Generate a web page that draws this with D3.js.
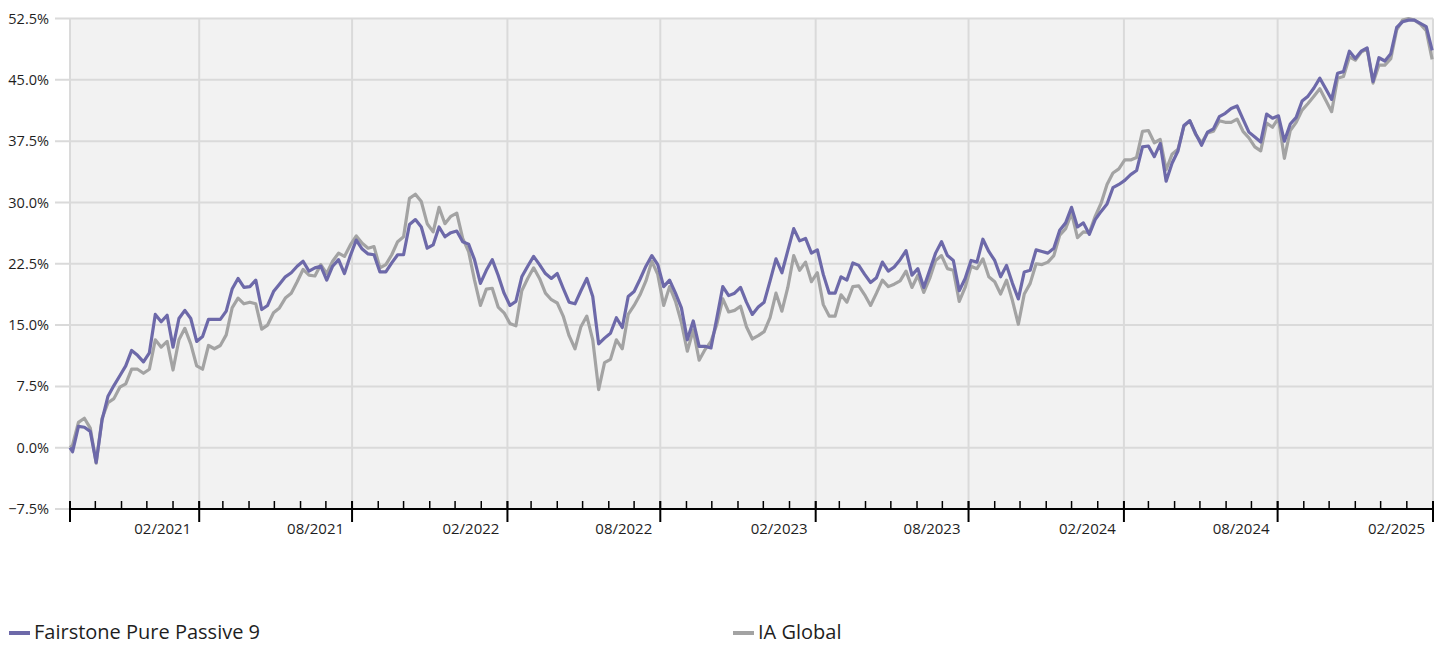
<!DOCTYPE html>
<html>
<head>
<meta charset="utf-8">
<script src="https://cdn.jsdelivr.net/npm/d3@7"></script>
<style>
  body { margin: 0; background: #fff; }
  svg text { font-family: "Open Sans", "Noto Sans", sans-serif; fill: #1e1e1e; }
</style>
</head>
<body>
<div id="chart"></div>
<script>
// series names
var seriesNames = ["Fairstone Pure Passive 9", "IA Global"];

// cumulative performance (%), first value at start date then weekly (Fridays)
var fairstone = [
  0, -0.5, 2.6, 2.5, 2.0, -1.8, 3.4, 6.3, 7.6, 8.8,
  10.0, 11.9, 11.3, 10.5, 11.6, 16.3, 15.4, 16.2, 12.3, 15.8,
  16.8, 15.8, 13.0, 13.6, 15.7, 15.7, 15.7, 16.7, 19.4, 20.7,
  19.6, 19.7, 20.5, 16.9, 17.4, 19.1, 20.0, 20.9, 21.4, 22.2,
  22.8, 21.6, 22.0, 22.2, 20.5, 22.2, 23.0, 21.3, 23.5, 25.4,
  24.3, 23.7, 23.6, 21.5, 21.5, 22.6, 23.6, 23.6, 27.3, 27.9,
  27.0, 24.4, 24.8, 27.0, 25.8, 26.3, 26.5, 25.2, 24.9, 23.0,
  20.1, 21.7, 23.0, 21.1, 18.9, 17.4, 17.9, 20.9, 22.2, 23.4,
  22.4, 21.3, 20.7, 21.3, 19.5, 17.8, 17.6, 19.2, 20.7, 18.5,
  12.7, 13.4, 14.0, 15.9, 14.7, 18.5, 19.1, 20.6, 22.2, 23.5,
  22.4, 19.7, 20.5, 18.9, 17.1, 13.2, 15.5, 12.4, 12.4, 12.2,
  15.9, 19.7, 18.6, 18.9, 19.6, 17.8, 16.3, 17.2, 17.8, 20.4,
  23.1, 21.4, 24.1, 26.8, 25.3, 25.6, 23.8, 24.2, 21.2, 18.9,
  18.9, 20.9, 20.5, 22.6, 22.3, 21.2, 20.2, 20.8, 22.7, 21.6,
  22.1, 23.0, 24.1, 21.1, 21.9, 19.6, 21.7, 23.8, 25.2, 23.5,
  22.9, 19.2, 20.7, 22.9, 22.7, 25.5, 24.0, 22.9, 20.9, 22.3,
  20.1, 18.2, 21.5, 21.7, 24.2, 24.0, 23.8, 24.4, 26.6, 27.5,
  29.4, 27.0, 27.5, 26.1, 27.9, 28.9, 29.8, 31.8, 32.2, 32.7,
  33.4, 33.9, 36.8, 36.9, 35.6, 37.2, 32.6, 34.8, 36.3, 39.4,
  40.0, 38.4, 37.0, 38.6, 39.0, 40.5, 40.9, 41.5, 41.8, 40.2,
  38.6, 38.0, 37.4, 40.8, 40.3, 40.6, 37.5, 39.6, 40.4, 42.4,
  43.0, 44.0, 45.2, 43.9, 42.6, 45.8, 46.0, 48.5, 47.6, 48.5,
  48.9, 44.8, 47.7, 47.3, 48.2, 51.4, 52.1, 52.3, 52.3, 51.9,
  51.5, 48.6
];

var iaGlobal = [
  0, 0.3, 3.1, 3.6, 2.4, -1.9, 3.6, 5.5, 6.0, 7.4,
  7.8, 9.6, 9.6, 9.1, 9.6, 13.2, 12.3, 13.0, 9.5, 13.2,
  14.6, 12.7, 10.0, 9.6, 12.5, 12.1, 12.5, 13.8, 17.1, 18.3,
  17.6, 17.8, 17.6, 14.5, 15.0, 16.5, 17.1, 18.3, 18.9, 20.3,
  21.8, 21.1, 21.0, 22.4, 21.3, 22.8, 23.8, 23.4, 24.8, 25.9,
  25.0, 24.4, 24.6, 22.0, 22.4, 23.6, 25.2, 25.8, 30.5, 31.0,
  30.1, 27.4, 26.4, 29.4, 27.4, 28.3, 28.7, 25.6, 24.0, 20.5,
  17.4, 19.4, 19.5, 17.2, 16.5, 15.2, 14.9, 19.2, 20.7, 22.0,
  20.7, 18.9, 18.1, 17.7, 16.1, 13.7, 12.1, 14.8, 16.1, 13.2,
  7.1, 10.4, 10.8, 13.2, 12.1, 16.3, 17.4, 18.7, 20.4, 22.8,
  21.2, 17.4, 19.7, 17.9, 15.3, 11.8, 14.4, 10.7, 12.0, 13.0,
  15.1, 18.2, 16.6, 16.8, 17.3, 14.8, 13.3, 13.7, 14.2, 15.9,
  18.9, 16.7, 19.6, 23.5, 21.7, 22.7, 20.3, 21.4, 17.5, 16.1,
  16.1, 18.7, 17.8, 19.7, 19.8, 18.7, 17.4, 18.9, 20.5, 19.7,
  20.0, 20.4, 21.6, 19.6, 21.1, 19.0, 20.7, 22.9, 23.5, 21.9,
  21.7, 17.9, 19.6, 22.2, 21.9, 23.1, 20.9, 20.3, 18.8, 20.5,
  18.0, 15.1, 18.8, 20.1, 22.5, 22.4, 22.7, 23.5, 26.0, 26.8,
  28.7, 25.7, 26.4, 26.3, 28.3, 29.9, 32.2, 33.6, 34.1, 35.2,
  35.2, 35.5, 38.7, 38.8, 37.3, 37.7, 34.0, 35.9, 36.5, 39.3,
  40.0, 38.3, 37.3, 38.5, 38.7, 40.0, 39.8, 39.8, 40.2, 38.7,
  37.9, 36.8, 36.3, 39.7, 39.2, 40.3, 35.4, 38.8, 39.8, 41.3,
  42.1, 43.0, 43.9, 42.5, 41.1, 45.2, 45.4, 47.8, 47.4, 48.4,
  48.8, 44.6, 46.8, 46.8, 47.6, 51.1, 52.3, 52.5, 52.3, 51.8,
  51.0, 47.5
];

// y axis tick values (%)
var yTicks = [-7.5, 0, 7.5, 15, 22.5, 30, 37.5, 45, 52.5];

// dates: start date, then every Friday to the end
var startDate = new Date(2020, 8, 1);
var endDate = new Date(2025, 1, 1);
var dates = [startDate].concat(d3.timeFriday.range(new Date(2020, 8, 4), endDate));

var colors = ["#6d69a9", "#a3a3a3"];

// set the dimensions and margins of the graph
var margin = {top: 18.5, right: 10, bottom: 136, left: 70},
    width = 1443 - margin.left - margin.right,
    height = 645 - margin.top - margin.bottom;

var svg = d3.select("#chart")
    .append("svg")
    .attr("width", 1443)
    .attr("height", 645)
    .append("g")
    .attr("transform", "translate(" + margin.left + "," + margin.top + ")");

// Set the ranges
var x = d3.scaleTime().domain([startDate, endDate]).range([0, width]);
var y = d3.scaleLinear().domain([-7.5, 52.5]).range([height, 0]);

// plot background
svg.append("rect")
    .attr("width", width)
    .attr("height", height)
    .attr("fill", "#f2f2f2");

// major ticks: axis start, then every 6 months from Feb 2021
var majorTicks = [startDate].concat(d3.timeMonth.range(new Date(2021, 1, 1), new Date(2025, 1, 2), 6));
var minorTicks = d3.timeMonth.range(startDate, new Date(2025, 1, 2));

// horizontal grid + y labels
var yg = svg.append("g").attr("class", "y axis");
yg.selectAll("line")
    .data(yTicks)
    .enter().append("line")
    .attr("x1", -15)
    .attr("x2", width)
    .attr("y1", function(d) { return y(d); })
    .attr("y2", function(d) { return y(d); })
    .attr("stroke", "#dadada")
    .attr("stroke-width", 2);
yg.selectAll("text")
    .data(yTicks)
    .enter().append("text")
    .attr("x", -21)
    .attr("y", function(d) { return y(d); })
    .attr("dy", "0.35em")
    .style("text-anchor", "end")
    .style("font-size", "14.5px")
    .text(function(d) { return d3.format(".1f")(d) + "%"; });

// vertical grid
svg.append("g")
    .selectAll("line")
    .data(majorTicks)
    .enter().append("line")
    .attr("x1", function(d) { return x(d); })
    .attr("x2", function(d) { return x(d); })
    .attr("y1", 0)
    .attr("y2", height)
    .attr("stroke", "#dadada")
    .attr("stroke-width", 2);

// Lines
var line = d3.line()
    .x(function(d, i) { return x(dates[i]); })
    .y(function(d) { return y(d); });

[iaGlobal, fairstone].forEach(function(s, k) {
    svg.append("path")
        .datum(s)
        .attr("fill", "none")
        .attr("stroke", k === 0 ? colors[1] : colors[0])
        .attr("stroke-width", 3.2)
        .attr("stroke-linejoin", "round")
        .attr("d", line);
});

// Add the X Axis
var xg = svg.append("g")
    .attr("class", "x axis")
    .attr("transform", "translate(0," + height + ")");

xg.append("line")
    .attr("x1", 0).attr("x2", width)
    .attr("stroke", "#000").attr("stroke-width", 2);

xg.selectAll(".minor")
    .data(minorTicks)
    .enter().append("line")
    .attr("class", "minor")
    .attr("x1", function(d) { return x(d); })
    .attr("x2", function(d) { return x(d); })
    .attr("y1", -8).attr("y2", 0)
    .attr("stroke", "#000").attr("stroke-width", 1.5);

xg.selectAll(".major")
    .data(majorTicks)
    .enter().append("line")
    .attr("class", "major")
    .attr("x1", function(d) { return x(d); })
    .attr("x2", function(d) { return x(d); })
    .attr("y1", -8).attr("y2", 13)
    .attr("stroke", "#000").attr("stroke-width", 2);

var fmt = d3.timeFormat("%m/%Y");
xg.selectAll("text")
    .data(majorTicks.slice(1))
    .enter().append("text")
    .attr("x", function(d) { return x(d) - 8; })
    .attr("y", 25)
    .style("text-anchor", "end")
    .style("font-size", "15px")
    .text(function(d) { return fmt(d); });

// legend
var legend = d3.select("svg").append("g");
var legX = [9, 733];
seriesNames.forEach(function(name, i) {
    var g = legend.append("g").attr("transform", "translate(" + legX[i] + ",633)");
    g.append("line")
        .attr("x1", 0).attr("x2", 21)
        .attr("stroke", colors[i]).attr("stroke-width", 4);
    g.append("text")
        .attr("x", 25)
        .attr("y", 6)
        .style("font-size", "20px")
        .text(name);
});
</script>
</body>
</html>
